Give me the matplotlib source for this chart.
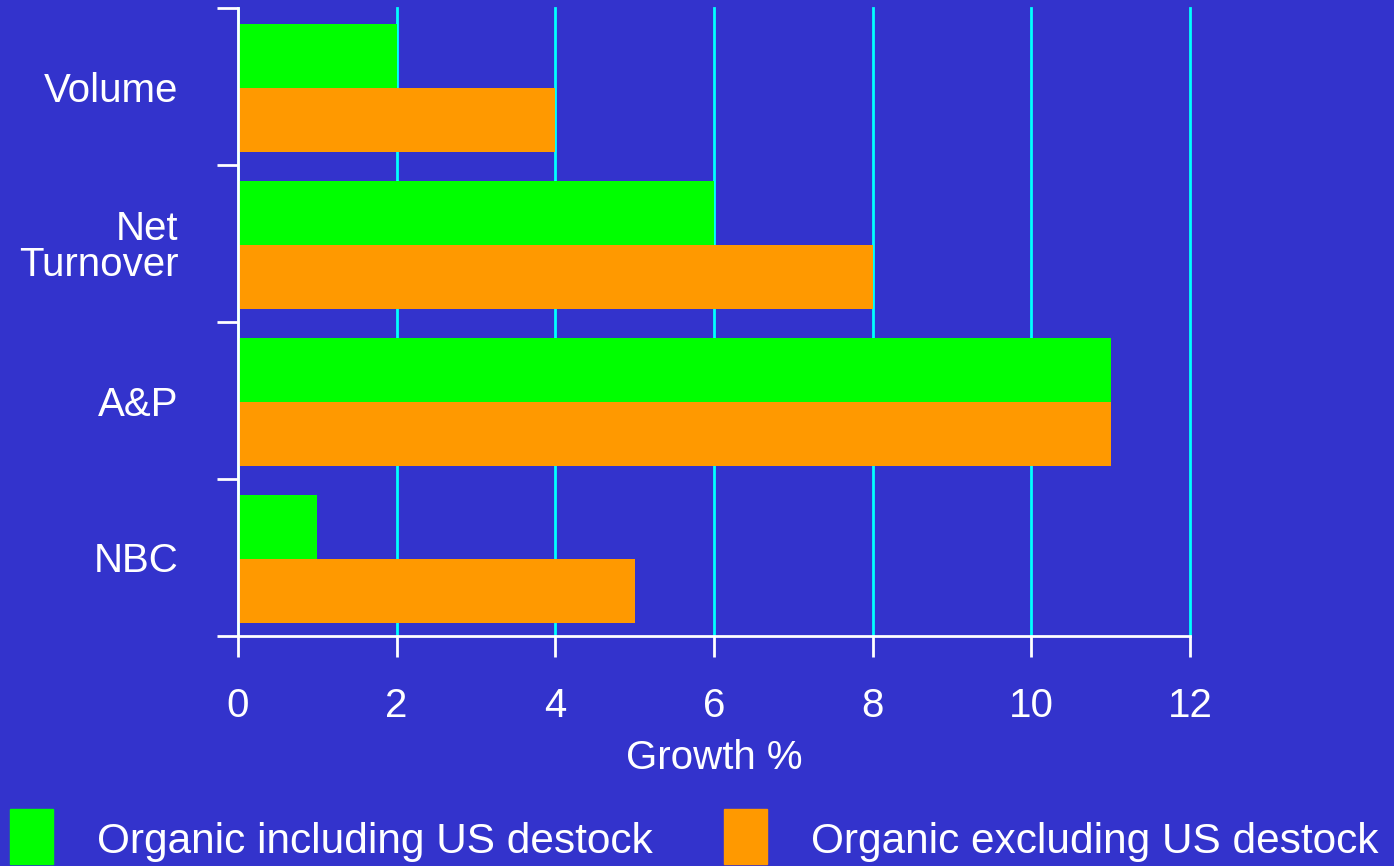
import matplotlib
matplotlib.use("Agg")
import matplotlib.pyplot as plt
from matplotlib.patches import Rectangle
import numpy as np

plt.rcParams['font.family'] = ['Liberation Sans', 'DejaVu Sans']

categories = ["Volume", "Net\nTurnover", "A&P", "NBC"]
incl_destock = [2, 6, 11, 1]
excl_destock = [4, 8, 11, 5]
series_names = ["Organic including US destock", "Organic excluding US destock"]
x_ticks = [0, 2, 4, 6, 8, 10, 12]

BG = "#3333CC"
GREEN = "#00FF00"
ORANGE = "#FF9900"
GRID = "#00FFFF"
W = 1394
H = 866

fig = plt.figure(figsize=(W / 100, H / 100), dpi=100, facecolor=BG)
ax = fig.add_axes([238 / W, 230 / H, (1190 - 238) / W, (858 - 230) / H])
ax.set_facecolor(BG)

centers = np.arange(len(categories)) + 0.5
bar_h = 0.405
ax.barh(centers - bar_h / 2 + 0.01, incl_destock, height=bar_h, color=GREEN, zorder=3)
ax.barh(centers + bar_h / 2 + 0.01, excl_destock, height=bar_h, color=ORANGE, zorder=3)

ax.set_xlim(0, 12)
ax.set_ylim(len(categories), 0)

ax.set_xticks(x_ticks)
ax.set_xticklabels([str(t) for t in x_ticks])
ax.xaxis.grid(True, color=GRID, linewidth=2, zorder=1)
ax.yaxis.grid(False)
for gl in ax.get_xgridlines():
    gl.set_clip_on(False)

# major y ticks mark the band edges, minor ticks carry the labels
ax.set_yticks(np.arange(len(categories) + 1))
ax.set_yticklabels([])
ax.set_yticks(centers, minor=True)
ax.set_yticklabels(categories, minor=True, fontsize=29, color="white",
                   linespacing=0.95, ha="right")
ax.tick_params(axis="y", which="minor", length=0, pad=43)
ax.tick_params(axis="y", which="major", length=15, width=2, color="white")
ax.tick_params(axis="x", which="major", length=15, width=2, color="white",
               labelsize=29, labelcolor="white", pad=22)

for side in ("top", "right"):
    ax.spines[side].set_visible(False)
for side in ("left", "bottom"):
    ax.spines[side].set_color("white")
    ax.spines[side].set_linewidth(2)
    ax.spines[side].set_zorder(4)

ax.set_xlabel("Growth %", fontsize=29, color="white", labelpad=10)

# legend drawn along the bottom of the figure
legend_items = [(series_names[0], GREEN, 10), (series_names[1], ORANGE, 724)]
for name, col, x0 in legend_items:
    fig.patches.append(Rectangle((x0 / W, (H - 864) / H), 43 / W, 55 / H,
                                 transform=fig.transFigure, color=col))
    fig.text((x0 + 87) / W, (H - 842) / H, name, fontsize=30.5, color="white",
             va="center", ha="left")

fig.savefig("out.png", dpi=100, facecolor=BG)
